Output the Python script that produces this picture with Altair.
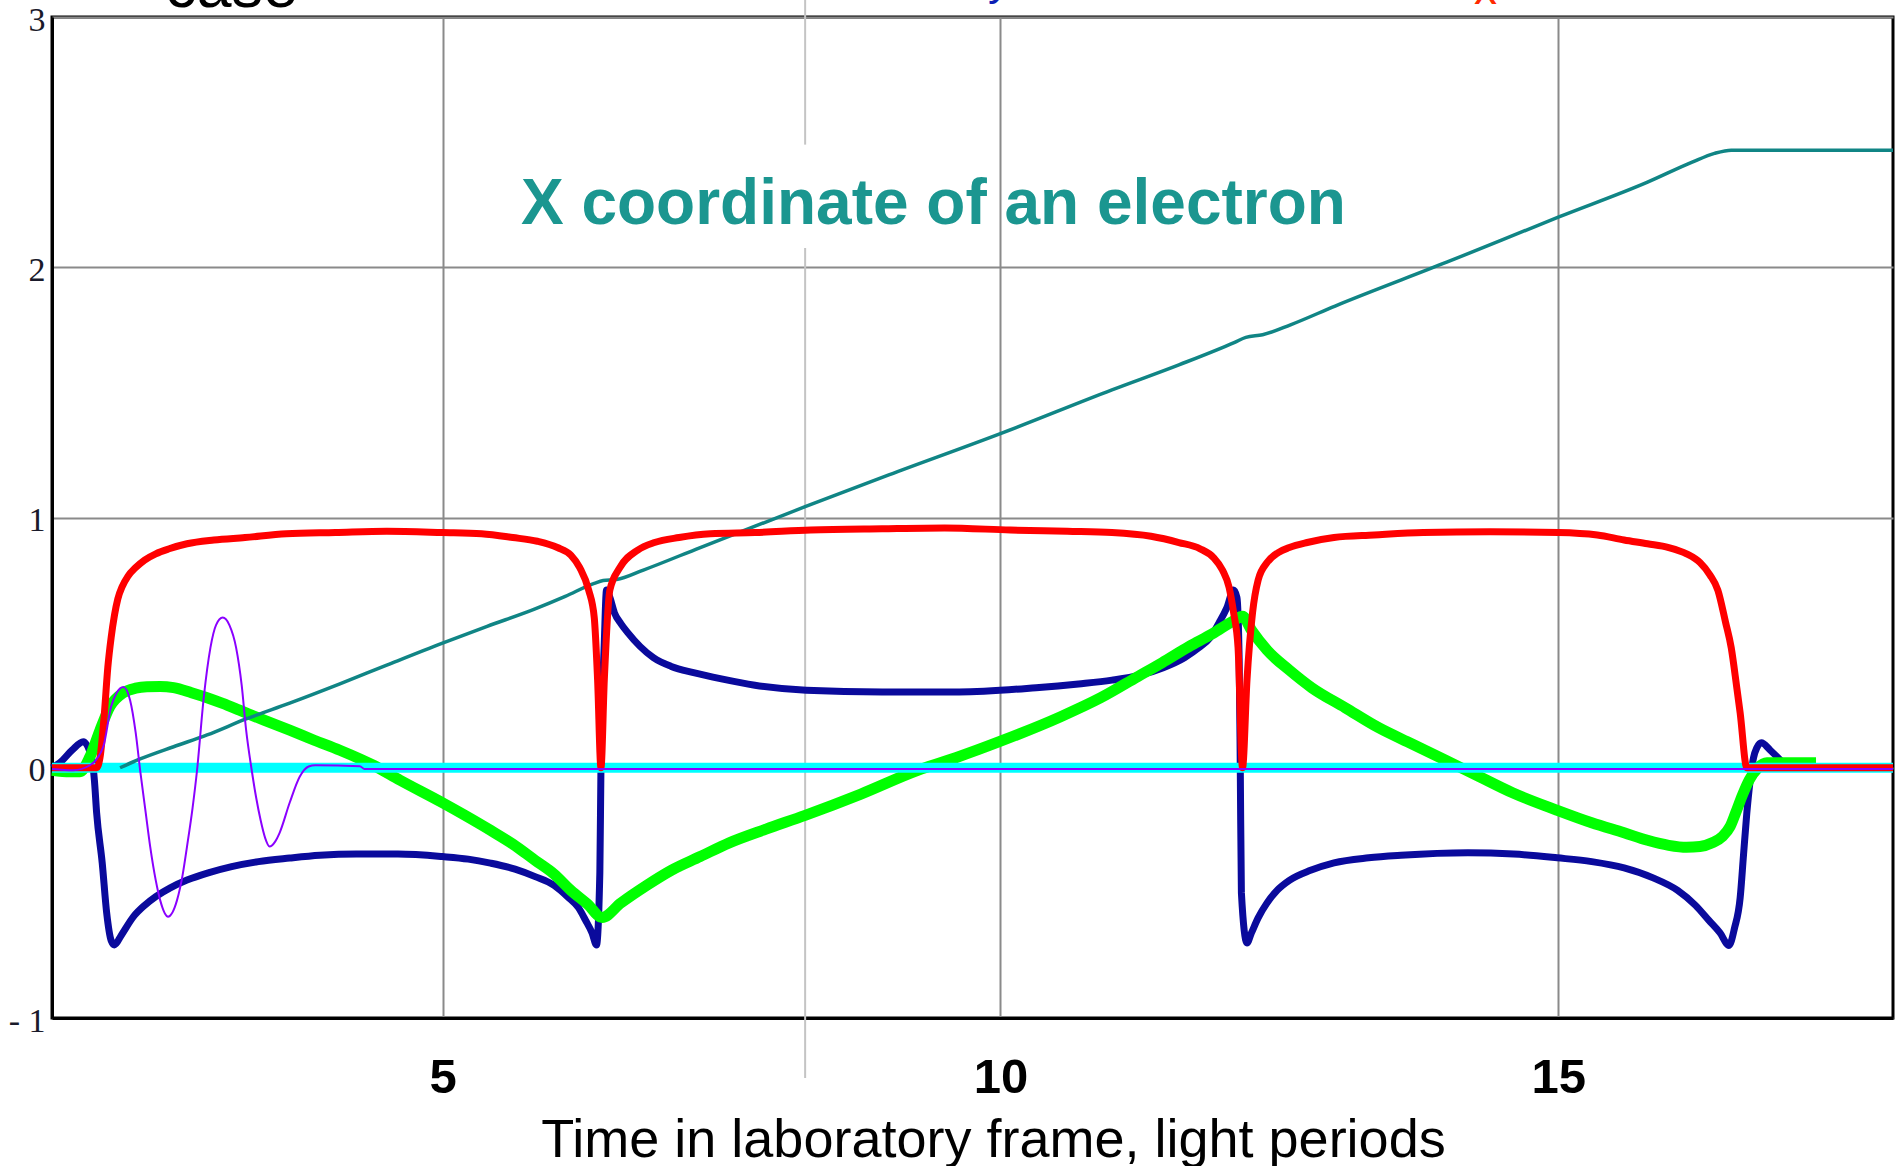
import altair as alt
import pandas as pd

# ---------------- data ----------------
X_DOMAIN = [1.5, 18]
Y_DOMAIN = [-1, 3]
X_TICKS = [5, 10, 15]
Y_TICKS = [-1, 0, 1, 2, 3]

RED = [(1.5, 0), (1.9, 0), (1.93, 0.04), (1.97, 0.22), (2.0, 0.40), (2.03, 0.52), (2.06, 0.61),
       (2.09, 0.675), (2.13, 0.725), (2.18, 0.765), (2.25, 0.80), (2.33, 0.83), (2.43, 0.855),
       (2.55, 0.875), (2.71, 0.895), (2.95, 0.91),
       (3.23, 0.92), (3.6, 0.935), (4.04, 0.94), (4.5, 0.945), (5.0, 0.94), (5.35, 0.935),
       (5.63, 0.92), (5.85, 0.905), (6.03, 0.88), (6.15, 0.85), (6.23, 0.80), (6.31, 0.71),
       (6.36, 0.60), (6.39, 0.35), (6.42, 0.0), (6.45, 0.35), (6.5, 0.71), (6.59, 0.80),
       (6.75, 0.87), (6.9, 0.90), (7.12, 0.92), (7.4, 0.935), (7.8, 0.94), (8.3, 0.95),
       (8.94, 0.955), (9.5, 0.958), (10.09, 0.95), (10.6, 0.945), (11.0, 0.94), (11.35, 0.925),
       (11.6, 0.90), (11.79, 0.875), (11.91, 0.84), (11.99, 0.79), (12.05, 0.72), (12.09, 0.62),
       (12.13, 0.48), (12.17, 0.0), (12.21, 0.35), (12.26, 0.62), (12.31, 0.75), (12.39, 0.82),
       (12.49, 0.86), (12.59, 0.88), (12.75, 0.90), (12.99, 0.92), (13.35, 0.93), (13.79, 0.94),
       (14.39, 0.943), (15.0, 0.94), (15.35, 0.93), (15.59, 0.91), (15.8, 0.895), (15.99, 0.88),
       (16.15, 0.855), (16.27, 0.82), (16.36, 0.77), (16.43, 0.71), (16.5, 0.58), (16.55, 0.48),
       (16.6, 0.32), (16.63, 0.22), (16.69, 0.0), (17.0, 0.0), (18.0, 0.0)]

BLUE = [(1.5, 0.0), (1.57, 0.02), (1.68, 0.07), (1.78, 0.104), (1.86, 0.03), (1.88, -0.05),
        (1.9, -0.18), (1.95, -0.38), (1.99, -0.58), (2.03, -0.69), (2.06, -0.708), (2.12, -0.67),
        (2.23, -0.595), (2.33, -0.55), (2.43, -0.515), (2.56, -0.48), (2.71, -0.449), (2.9, -0.42),
        (3.11, -0.395), (3.35, -0.375), (3.63, -0.361), (3.9, -0.35), (4.23, -0.345), (4.6, -0.345),
        (5.0, -0.355), (5.23, -0.365), (5.43, -0.381), (5.65, -0.405), (5.83, -0.435), (6.0, -0.47),
        (6.12, -0.515), (6.22, -0.56), (6.28, -0.608), (6.34, -0.66), (6.38, -0.708), (6.41, -0.42),
        (6.42, 0.0), (6.45, 0.5), (6.47, 0.71), (6.5, 0.68), (6.54, 0.62), (6.6, 0.575), (6.66, 0.54),
        (6.77, 0.485), (6.89, 0.44), (7.05, 0.405), (7.25, 0.38), (7.5, 0.355), (7.8, 0.33),
        (8.26, 0.31), (8.94, 0.303), (9.63, 0.303), (10.32, 0.32), (10.7, 0.335), (11.0, 0.35),
        (11.25, 0.37), (11.46, 0.40), (11.65, 0.44), (11.78, 0.48), (11.88, 0.52), (11.96, 0.58),
        (12.03, 0.64), (12.09, 0.71), (12.12, 0.68), (12.14, 0.43), (12.15, 0.0), (12.16, -0.50),
        (12.21, -0.70), (12.25, -0.66), (12.31, -0.60), (12.39, -0.54), (12.48, -0.49),
        (12.59, -0.45), (12.78, -0.41), (12.99, -0.38), (13.3, -0.36), (13.59, -0.35),
        (14.19, -0.34), (14.6, -0.345), (14.99, -0.36), (15.3, -0.375), (15.59, -0.40),
        (15.85, -0.44), (16.07, -0.49), (16.23, -0.55), (16.35, -0.61), (16.45, -0.66),
        (16.53, -0.71), (16.58, -0.64), (16.63, -0.52), (16.66, -0.35), (16.69, -0.18),
        (16.72, -0.05), (16.75, 0.04), (16.78, 0.08), (16.82, 0.10), (16.9, 0.07), (16.99, 0.03),
        (17.05, 0.0), (18.0, 0.0)]

GREEN = [(1.5, -0.01), (1.66, -0.016), (1.75, -0.016), (1.84, 0.044), (1.93, 0.15), (2.02, 0.245),
         (2.14, 0.30), (2.25, 0.318), (2.35, 0.324), (2.47, 0.325), (2.59, 0.32), (2.75, 0.30),
         (2.89, 0.28), (3.03, 0.257), (3.18, 0.23), (3.4, 0.19), (3.63, 0.15), (3.85, 0.11),
         (4.08, 0.07), (4.38, 0.01), (4.62, -0.05), (5.0, -0.14), (5.2, -0.19), (5.43, -0.25),
         (5.63, -0.305), (5.83, -0.37), (6.0, -0.425), (6.15, -0.49), (6.3, -0.545), (6.43, -0.598),
         (6.6, -0.54), (6.83, -0.47), (7.05, -0.41), (7.31, -0.355), (7.57, -0.30), (7.9, -0.245),
         (8.25, -0.19), (8.75, -0.105), (9.26, -0.01), (9.6, 0.04), (9.99, 0.104), (10.54, 0.204),
         (10.9, 0.28), (11.23, 0.364), (11.45, 0.42), (11.69, 0.484), (11.9, 0.535), (12.1, 0.59),
         (12.17, 0.605), (12.25, 0.55), (12.39, 0.47), (12.59, 0.39), (12.79, 0.32), (13.09, 0.24),
         (13.39, 0.16), (13.69, 0.095), (13.99, 0.03), (14.29, -0.035), (14.59, -0.10),
         (14.99, -0.17), (15.3, -0.22), (15.59, -0.26), (15.8, -0.29), (15.99, -0.31),
         (16.15, -0.318), (16.27, -0.315), (16.38, -0.30), (16.47, -0.275), (16.54, -0.235),
         (16.59, -0.18), (16.65, -0.11), (16.71, -0.05), (16.79, 0.0), (16.87, 0.02), (17.31, 0.02)]

PURPLE = [(1.5, -0.005), (1.69, -0.01), (1.84, 0.01), (1.96, 0.085), (2.03, 0.245), (2.08, 0.30),
          (2.14, 0.323), (2.2, 0.27), (2.25, 0.14), (2.29, -0.01), (2.34, -0.18), (2.38, -0.315),
          (2.43, -0.45), (2.47, -0.53), (2.54, -0.595), (2.62, -0.53), (2.67, -0.43), (2.71, -0.315),
          (2.76, -0.16), (2.8, -0.01), (2.86, 0.28), (2.92, 0.48), (2.97, 0.57), (3.03, 0.60),
          (3.09, 0.57), (3.15, 0.48), (3.2, 0.33), (3.24, 0.15), (3.29, -0.01), (3.33, -0.12),
          (3.37, -0.21), (3.41, -0.28), (3.45, -0.315), (3.5, -0.295), (3.54, -0.26), (3.63, -0.14),
          (3.72, -0.036), (3.8, 0.005), (3.86, 0.01), (4.26, 0.006), (4.3, -0.005), (18.0, -0.005)]

TEAL = [(2.11, 0.0), (2.29, 0.035), (2.59, 0.084), (2.89, 0.131), (3.24, 0.195), (3.63, 0.258),
        (4.08, 0.335), (4.5, 0.41), (5.0, 0.498), (5.4, 0.565), (5.83, 0.635), (6.1, 0.685),
        (6.36, 0.737), (6.44, 0.748), (6.56, 0.752), (6.8, 0.79), (7.31, 0.88), (8.25, 1.043),
        (9.0, 1.17), (10.0, 1.335), (11.0, 1.51), (11.6, 1.61), (12.1, 1.70), (12.2, 1.72),
        (12.35, 1.73), (12.6, 1.77), (13.0, 1.845), (14.0, 2.02), (15.0, 2.2), (15.8, 2.34),
        (16.2, 2.42), (16.4, 2.455), (16.55, 2.468), (18.0, 2.468)]

CYAN = [(1.5, 0.0), (18.0, 0.0)]

X_TITLE = "Time in laboratory frame, light periods"
NOTE_TEXT = "X coordinate of an electron"
TOP_WORD = "case"
TOP_BLUE = "y"
TOP_RED = "x"


def frame(pairs):
    return pd.DataFrame({"t": [p[0] for p in pairs], "v": [p[1] for p in pairs]})


xs = alt.Scale(domain=X_DOMAIN, nice=False, zero=False)
ys = alt.Scale(domain=Y_DOMAIN, nice=False, zero=False)

x_axis = alt.Axis(values=X_TICKS, format="d", grid=True, gridColor="#8a8a8a", gridWidth=2,
                  ticks=False, domainColor="black", domainWidth=3, labelFont="Liberation Sans",
                  labelFontSize=49, labelFontWeight="bold", labelColor="black", labelPadding=35,
                  labelFlush=False, labelOverlap=False, labelBound=False,
                  title=X_TITLE, titleFont="Liberation Sans", titleFontSize=54,
                  titleFontWeight="normal", titleColor="black", titleX=941, titleY=138,
                  titleBaseline="alphabetic", titleAlign="center")
y_axis = alt.Axis(values=Y_TICKS, format="d", grid=True, gridColor="#8a8a8a", gridWidth=2,
                  ticks=False, domainColor="black", domainWidth=3, labelFont="Liberation Serif",
                  labelFontSize=34, labelColor="#1a1a2a", labelPadding=7, labelOffset=3,
                  labelFlush=False, labelOverlap=False, labelBound=False,
                  labelExpr="datum.value == -1 ? '- 1' : datum.label", title=None)

X = alt.X("t:Q", scale=xs, axis=x_axis)
Y = alt.Y("v:Q", scale=ys, axis=y_axis)


def line(pairs, color, width):
    return alt.Chart(frame(pairs)).mark_line(color=color, strokeWidth=width,
                                              interpolate="monotone").encode(x=X, y=Y)


# light vertical slide line (with a gap behind the note text)
gray_a = alt.Chart(pd.DataFrame({"t": [8.25]})).mark_rule(color="#c4c4c4", strokeWidth=2).encode(
    x=alt.X("t:Q", scale=xs), y=alt.datum(3.07, scale=ys), y2=alt.datum(2.49))
gray_b = alt.Chart(pd.DataFrame({"t": [8.25]})).mark_rule(color="#c4c4c4", strokeWidth=2).encode(
    x=alt.X("t:Q", scale=xs), y=alt.datum(2.077, scale=ys), y2=alt.datum(-1.24))


def label(text, x, y, size, color, weight="normal"):
    return alt.Chart(pd.DataFrame({"t": [x], "v": [y], "s": [text]})).mark_text(
        font="Liberation Sans", fontSize=size, fontWeight=weight, color=color,
        align="left", baseline="alphabetic").encode(
        x=alt.X("t:Q", scale=xs), y=alt.Y("v:Q", scale=ys), text="s:N")


note = alt.Chart(pd.DataFrame({"t": [9.4], "v": [2.173], "s": [NOTE_TEXT]})).mark_text(
    font="Liberation Sans", fontSize=64, fontWeight="bold", color="#1b9690",
    align="center", baseline="alphabetic").encode(
    x=alt.X("t:Q", scale=xs), y=alt.Y("v:Q", scale=ys), text="s:N")

chart = alt.layer(
    gray_a, gray_b,
    line(BLUE, "#0a0a9c", 7),
    line(GREEN, "#00ff00", 11),
    line(CYAN, "#00ffff", 10),
    line(TEAL, "#108585", 3.5),
    line(RED, "#ff0000", 7),
    line(PURPLE, "#8a00ff", 2),
    note,
    label(TOP_WORD, 2.513, 3.04, 63, "black"),
    label(TOP_BLUE, 9.889, 3.086, 45, "#0d1fb5"),
    label(TOP_RED, 14.244, 3.05, 46, "#ff2a00"),
).properties(
    width=1841, height=1001,
    padding={"left": 52, "top": 17, "right": 6, "bottom": 148},
    autosize=alt.AutoSizeParams(type="none"),
    background="white",
).configure_view(stroke="black", strokeWidth=3)

chart.save("out.html", embed_options={"renderer": "svg", "actions": False})
